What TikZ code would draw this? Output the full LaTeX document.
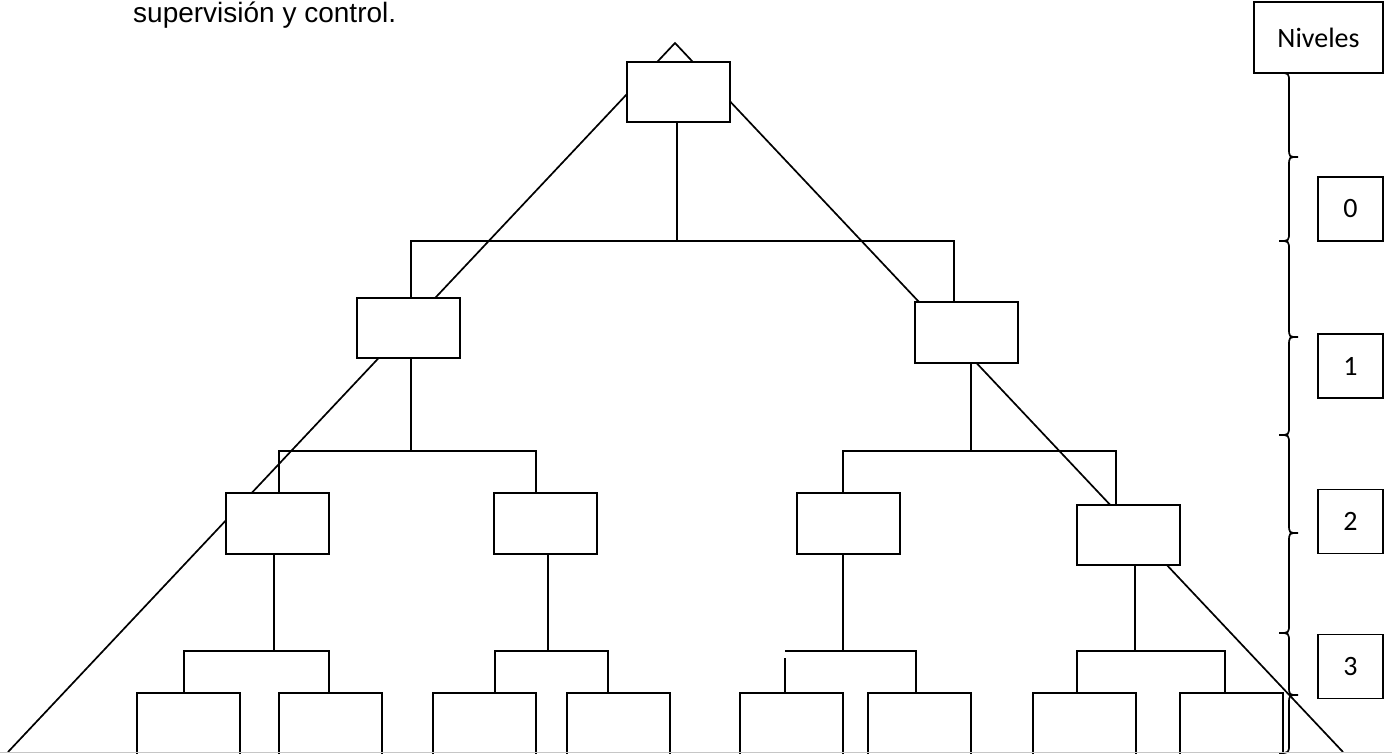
\documentclass[tikz,border=0pt]{standalone}
\usepackage{fontspec}
\setmainfont{Liberation Sans}
\newfontfamily\calibrifont{Carlito}
% curly brace opening to the left, tip pointing right
\newcommand\levelbrace[3]{%
  \draw[bracepen] (1279,#1) .. controls (1289,#1) .. (1289,{#1+9})
    -- (1289,{#2-9}) .. controls (1289,#2) .. (1298,#2)
    .. controls (1289,#2) .. (1289,{#2+9})
    -- (1289,{#3-9}) .. controls (1289,#3) .. (1279,#3);}
\begin{document}
\begin{tikzpicture}[x=1pt,y=-1pt,line join=miter,
  box/.style={draw, fill=white, line width=2pt, inner sep=0pt,
    minimum width=103pt, minimum height=60pt},
  leaf/.style={box, minimum height=80pt},
  lvl/.style={draw, fill=white, line width=1.7pt, inner sep=0pt,
    minimum width=65pt, minimum height=64pt,
    font=\calibrifont\fontsize{28}{32}\selectfont},
  conn/.style={line width=1.9pt},
  slope/.style={line width=1.7pt},
  bracepen/.style={line width=1.7pt}]
\useasboundingbox (0,0) rectangle (1392,753);
\clip (0,0) rectangle (1392,753);

% heading line above the chart
\node[anchor=base west, inner sep=0pt, font=\fontsize{28}{33}\selectfont]
  (head) at (133,22.5) {supervisión y control.};

% the big triangle behind the organisation chart
\coordinate (apex) at (675,43);
\coordinate (cornerL) at (8,752);
\coordinate (cornerR) at (1343,752);
\draw[slope] (cornerL) -- (apex) -- (cornerR);

% junction points of the connectors
\coordinate (k0) at (677,241);  \coordinate (k0a) at (411,241);  \coordinate (k0b) at (954,241);
\coordinate (k1) at (411,451);  \coordinate (k1a) at (279,451);  \coordinate (k1b) at (536,451);
\coordinate (k2) at (971,451);  \coordinate (k2a) at (843,451);  \coordinate (k2b) at (1116,451);
\coordinate (g1) at (274,651);  \coordinate (g1a) at (184,651);  \coordinate (g1b) at (329,651);
\coordinate (g2) at (548,651);  \coordinate (g2a) at (495,651);  \coordinate (g2b) at (608,651);
\coordinate (g3) at (843,651);  \coordinate (g3a) at (785,651);  \coordinate (g3b) at (916,651);
\coordinate (g3s) at (785,658);
\coordinate (g4) at (1135,651); \coordinate (g4a) at (1077,651); \coordinate (g4b) at (1225,651);

% boxes of the hierarchy
\node[box] (top) at (678.5,92) {};
\node[box] (l1a) at (408.5,327.5) {};
\node[box, minimum height=61pt] (l1b) at (966.5,332.5) {};
\node[box, minimum height=61pt] (l2a) at (277.5,523.25) {};
\node[box, minimum height=61pt] (l2b) at (545.5,523.25) {};
\node[box, minimum height=61pt] (l2c) at (848.5,523.5) {};
\node[box] (l2d) at (1128.5,535) {};
\node[leaf] (la) at (188,733) {};
\node[leaf] (lb) at (330.5,733) {};
\node[leaf] (lc) at (484,733) {};
\node[leaf] (ld) at (618,733) {};
\node[leaf] (le) at (791.5,733) {};
\node[leaf] (lf) at (919.5,733) {};
\node[leaf] (lg) at (1084,733) {};
\node[leaf] (lh) at (1231.5,733) {};

% connectors: level 0 to level 1
\draw[conn] (top.south -| k0) -- (k0);
\draw[conn] (l1a.north -| k0a) -- (k0a) -- (k0b) -- (l1b.north -| k0b);
% level 1 to level 2
\draw[conn] (l1a.south -| k1) -- (k1);
\draw[conn] (l2a.north -| k1a) -- (k1a) -- (k1b) -- (l2b.north -| k1b);
\draw[conn] (l1b.south -| k2) -- (k2);
\draw[conn] (l2c.north -| k2a) -- (k2a) -- (k2b) -- (l2d.north -| k2b);
% level 2 to level 3
\draw[conn] (l2a.south -| g1) -- (g1);
\draw[conn] (la.north -| g1a) -- (g1a) -- (g1b) -- (lb.north -| g1b);
\draw[conn] (l2b.south -| g2) -- (g2);
\draw[conn] (lc.north -| g2a) -- (g2a) -- (g2b) -- (ld.north -| g2b);
\draw[conn] (l2c.south -| g3) -- (g3);
\draw[conn] (g3a) -- (g3b) -- (lf.north -| g3b);
\draw[conn] (le.north -| g3s) -- (g3s);
\draw[conn] (l2d.south -| g4) -- (g4);
\draw[conn] (lg.north -| g4a) -- (g4a) -- (g4b) -- (lh.north -| g4b);

% level labels on the right
\node[lvl, minimum width=129pt, minimum height=71pt] (niv) at (1318.5,37.5) {Niveles};
\node[lvl] (n0) at (1350.5,209) {0};
\node[lvl] (n1) at (1350.5,366) {1};
\node[lvl] (n2) at (1350.5,521.5) {2};
\node[lvl] (n3) at (1350.5,666.5) {3};

% braces separating the levels
\levelbrace{73}{157}{241}
\levelbrace{241}{337}{435}
\levelbrace{435}{533}{633}
\levelbrace{633}{695}{753}

% lower edge of the sheet
\draw[gray!45, line width=1pt] (0,752.5) -- (1392,752.5);
\end{tikzpicture}
\end{document}
